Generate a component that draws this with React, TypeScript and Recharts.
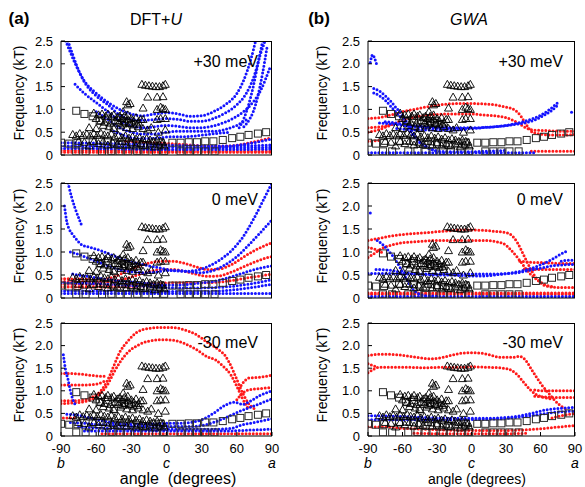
import React from "react";
import { ComposedChart, Line, Scatter, XAxis, YAxis } from "recharts";

type Pt = [number, number];

const ANGLE_TICKS = [-90, -60, -30, 0, 30, 60, 90];
const FREQ_TICKS = [0, 0.5, 1, 1.5, 2, 2.5];
const FIELD_LABELS = ["+30 meV", "0 meV", "-30 meV"];
const DIRECTION_LABELS = ["b", "c", "a"];
// top and right edges of each plot box (corner points, in data units)
const FRAME_EDGE: Pt[] = [[-90, 2.5], [90, 2.5], [90, 0]];

// experimental points (same in every panel)
const SQUARES: Pt[] = [
  [-77, 0.08], [-69, 0.08], [-55, 0.08], [-47, 0.09], [-40, 0.08], [-33, 0.08], [-25, 0.09], [-18, 0.08],
  [-9, 0.08], [-2, 0.09], [12, 0.08], [19, 0.08], [26, 0.08], [33, 0.08], [41, 0.08],
  [-90, 0.27], [-83, 0.25], [-76, 0.26], [-63, 0.3], [-57, 0.32], [-50, 0.3], [-45, 0.25], [-40, 0.22],
  [-35, 0.3], [-30, 0.25], [-25, 0.28], [-20, 0.22], [-12, 0.27], [-5, 0.27], [5, 0.27], [12, 0.27],
  [19, 0.28], [26, 0.28], [33, 0.3], [40, 0.3], [48, 0.33], [56, 0.37], [63, 0.4], [70, 0.44], [78, 0.47], [85, 0.5],
  [-77, 0.97], [-70, 0.9], [-63, 0.85], [-57, 0.75], [-50, 0.8], [-45, 0.6], [-41, 0.76], [-36, 0.74], [-32, 0.7],
];

const TRIANGLES: Pt[] = [
  [-21, 1.55], [-18, 1.53], [-15, 1.52], [-12, 1.51], [-9, 1.5], [-6, 1.5], [-3, 1.52], [-1, 1.55],
  [-16, 1.27], [-8, 1.27], [-3, 1.28], [-34, 1.17], [-31, 1.13], [-33, 1.1],
  [-20, 1.03], [-8, 1.0], [-5, 1.05], [-3, 1.02], [-1, 1.0], [-37, 0.95], [-33, 0.88],
  [-20, 0.78], [-8, 0.78], [-5, 0.8], [-1, 0.8], [-16, 0.55], [-7, 0.5], [-1, 0.55],
  [-62, 0.92], [-58, 0.88], [-55, 0.9], [-52, 0.85], [-50, 0.9], [-47, 0.85], [-45, 0.88], [-42, 0.82],
  [-40, 0.85], [-38, 0.8], [-36, 0.85], [-33, 0.78], [-30, 0.8], [-28, 0.75], [-26, 0.82], [-24, 0.72],
  [-22, 0.78], [-60, 0.8], [-56, 0.75], [-53, 0.72], [-48, 0.7], [-44, 0.75], [-41, 0.7], [-37, 0.68],
  [-35, 0.72], [-31, 0.7], [-28, 0.66], [-25, 0.68],
  [-66, 0.6], [-60, 0.58], [-54, 0.65], [-49, 0.62], [-45, 0.58], [-39, 0.64], [-34, 0.6], [-29, 0.58],
  [-24, 0.62], [-20, 0.58], [-13, 0.6],
  [-80, 0.45], [-77, 0.42], [-74, 0.47], [-71, 0.43], [-68, 0.46], [-65, 0.42], [-62, 0.47], [-59, 0.43],
  [-56, 0.48], [-53, 0.44], [-50, 0.42], [-47, 0.46], [-44, 0.4], [-41, 0.43], [-38, 0.38], [-35, 0.42],
  [-32, 0.37], [-29, 0.4], [-26, 0.35], [-23, 0.38], [-20, 0.33], [-17, 0.36], [-14, 0.33], [-11, 0.3],
  [-8, 0.33], [-5, 0.3], [-3, 0.28],
  [-75, 0.3], [-70, 0.28], [-66, 0.2], [-62, 0.3], [-58, 0.25], [-54, 0.3], [-50, 0.22], [-46, 0.28],
  [-42, 0.24], [-38, 0.3], [-34, 0.22], [-30, 0.27], [-26, 0.2], [-22, 0.25], [-18, 0.2], [-14, 0.24],
  [-10, 0.18], [-6, 0.22], [-2, 0.2],
];

// (a) DFT+U
const DFT_P30_RED: Pt[][] = [
  [[-90, 0.06], [-45, 0.06], [0, 0.06], [45, 0.06], [90, 0.06]],
  [[-90, 0.1], [-45, 0.1], [0, 0.09], [45, 0.08], [90, 0.08]],
  [[-35, 0.3], [-20, 0.28], [-5, 0.26], [10, 0.24], [25, 0.21], [40, 0.19], [55, 0.2], [70, 0.26], [80, 0.32], [90, 0.38]],
];
const DFT_P30_BLUE: Pt[][] = [
  [[-86, 2.5], [-82, 2.25], [-76, 1.9], [-70, 1.62], [-62, 1.4], [-55, 1.25], [-48, 1.12], [-40, 1.0], [-30, 0.9], [-20, 0.86], [-10, 0.9], [0, 0.93], [10, 0.9], [20, 0.85], [30, 0.86], [40, 0.95], [50, 1.1], [60, 1.35], [66, 1.65], [72, 2.1], [76, 2.5]],
  [[-84, 2.5], [-80, 2.2], [-74, 1.8], [-68, 1.52], [-60, 1.3], [-50, 1.1], [-40, 0.88], [-30, 0.78], [-20, 0.76], [-10, 0.78], [0, 0.8], [10, 0.78], [20, 0.74], [30, 0.74], [40, 0.8], [50, 0.92], [60, 1.1], [68, 1.35], [75, 1.75], [80, 2.2], [84, 2.5]],
  [[-78, 1.55], [-70, 1.35], [-60, 1.15], [-50, 0.95], [-40, 0.75], [-30, 0.64], [-20, 0.6], [-10, 0.62], [0, 0.65], [10, 0.63], [20, 0.6], [30, 0.6], [40, 0.64], [50, 0.72], [60, 0.85], [70, 1.05], [80, 1.4], [88, 1.9]],
  [[-60, 0.95], [-50, 0.78], [-40, 0.6], [-30, 0.5], [-20, 0.46], [-10, 0.46], [0, 0.5], [10, 0.52], [20, 0.52], [30, 0.52], [40, 0.52], [50, 0.56], [60, 0.65], [70, 0.8]],
  [[-45, 0.52], [-35, 0.42], [-25, 0.36], [-15, 0.36], [-5, 0.38], [5, 0.4], [15, 0.4], [25, 0.42], [35, 0.45], [45, 0.48], [55, 0.5]],
  [[62, 0.6], [66, 0.8], [70, 1.1], [74, 1.5], [78, 2.0], [82, 2.5]],
  [[66, 0.62], [70, 0.75], [74, 0.95], [78, 1.3], [82, 1.8], [86, 2.4]],
  [[-90, 0.27], [-60, 0.26], [-30, 0.24], [0, 0.22], [30, 0.2], [60, 0.2], [90, 0.22]],
  [[-90, 0.2], [-60, 0.19], [-30, 0.18], [0, 0.17], [30, 0.16], [60, 0.16], [90, 0.17]],
  [[-90, 0.14], [-60, 0.14], [-30, 0.13], [0, 0.12], [30, 0.12], [60, 0.12], [90, 0.13]],
  [[30, 0.15], [50, 0.18], [70, 0.25], [90, 0.35]],
];

const DFT_0_RED: Pt[][] = [
  [[-90, 0.42], [-70, 0.41], [-55, 0.4], [-45, 0.46], [-35, 0.57], [-25, 0.68], [-15, 0.76], [-5, 0.8], [5, 0.8], [15, 0.76], [25, 0.68], [35, 0.62], [45, 0.63], [55, 0.72], [65, 0.88], [75, 1.03], [85, 1.15], [90, 1.2]],
  [[-90, 0.36], [-70, 0.35], [-55, 0.34], [-45, 0.36], [-35, 0.42], [-25, 0.5], [-15, 0.57], [-5, 0.62], [5, 0.62], [15, 0.58], [25, 0.52], [35, 0.47], [45, 0.48], [55, 0.56], [65, 0.67], [75, 0.78], [85, 0.87], [90, 0.9]],
  [[-90, 0.3], [-70, 0.3], [-50, 0.29], [-30, 0.3], [-10, 0.32], [10, 0.33], [30, 0.33], [50, 0.36], [70, 0.44], [90, 0.52]],
  [[-90, 0.24], [-70, 0.24], [-50, 0.24], [-30, 0.25], [-10, 0.26]],
];
const DFT_0_BLUE: Pt[][] = [
  [[-84, 2.5], [-81, 2.2], [-78, 1.95], [-75, 1.75], [-72, 1.55]],
  [[-87, 2.0], [-85, 1.65], [-83, 1.5], [-80, 1.38], [-76, 1.25], [-72, 1.15], [-65, 1.1], [-55, 1.02], [-45, 0.92], [-35, 0.82], [-25, 0.75], [-15, 0.7], [-5, 0.65], [5, 0.6], [15, 0.58], [25, 0.6], [35, 0.68], [45, 0.82], [55, 1.02], [65, 1.32], [75, 1.75], [85, 2.25], [90, 2.5]],
  [[-82, 1.0], [-75, 0.95], [-68, 0.88], [-60, 0.8], [-50, 0.7], [-40, 0.62], [-30, 0.57], [-20, 0.55], [-10, 0.56], [0, 0.6], [10, 0.6], [20, 0.57], [30, 0.55], [40, 0.6], [50, 0.72], [60, 0.9], [70, 1.15], [80, 1.42], [90, 1.7]],
  [[-80, 0.52], [-70, 0.48], [-60, 0.44], [-50, 0.4], [-40, 0.37], [-30, 0.35], [-20, 0.33], [-10, 0.3], [0, 0.28], [10, 0.28], [20, 0.3], [30, 0.33], [40, 0.36], [50, 0.42], [60, 0.5], [70, 0.58], [80, 0.65], [90, 0.7]],
  [[-90, 0.33], [-70, 0.32], [-50, 0.3], [-30, 0.27], [-10, 0.24], [10, 0.22], [30, 0.22], [50, 0.24], [70, 0.3], [90, 0.4]],
  [[-90, 0.1], [-45, 0.1], [0, 0.1], [45, 0.1], [90, 0.1]],
  [[-90, 0.15], [-50, 0.15], [-10, 0.14], [30, 0.14], [50, 0.16], [70, 0.22], [90, 0.3]],
];

const DFT_M30_RED: Pt[][] = [
  [[-90, 0.78], [-80, 0.78], [-70, 0.8], [-62, 0.88], [-56, 1.0], [-50, 1.25], [-45, 1.55], [-40, 1.85], [-33, 2.1], [-25, 2.3], [-15, 2.38], [-5, 2.4], [5, 2.4], [15, 2.35], [25, 2.25], [35, 2.07], [45, 1.9], [50, 1.78], [55, 1.55], [60, 1.25], [65, 0.95], [70, 0.72], [75, 0.6]],
  [[-90, 0.72], [-80, 0.73], [-70, 0.76], [-62, 0.83], [-56, 0.95], [-50, 1.15], [-45, 1.4], [-40, 1.62], [-33, 1.85], [-25, 2.0], [-15, 2.1], [-5, 2.13], [5, 2.12], [15, 2.05], [25, 1.92], [35, 1.75], [42, 1.68], [48, 1.55], [55, 1.35], [60, 1.1], [65, 0.82], [70, 0.6]],
  [[-90, 1.38], [-80, 1.38], [-70, 1.36], [-60, 1.33], [-52, 1.32]],
  [[-90, 1.13], [-80, 1.13], [-70, 1.13], [-60, 1.15], [-52, 1.22]],
  [[-88, 0.4], [-84, 0.4], [-80, 0.4], [-76, 0.4]],
  [[62, 1.05], [66, 1.2], [70, 1.28], [80, 1.3], [90, 1.35]],
  [[60, 0.8], [65, 0.95], [70, 1.02], [80, 1.05], [90, 1.07]],
  [[-55, 0.05], [-30, 0.05], [0, 0.05], [30, 0.05], [60, 0.05], [90, 0.05]],
];
const DFT_M30_BLUE: Pt[][] = [
  [[-88, 1.8], [-86, 1.45], [-84, 1.25], [-82, 1.0], [-80, 0.82], [-78, 0.7]],
  [[-85, 0.48], [-78, 0.47], [-70, 0.43], [-60, 0.37], [-50, 0.31], [-40, 0.28], [-30, 0.26], [-20, 0.26], [-10, 0.27], [0, 0.28], [10, 0.28], [20, 0.3], [30, 0.36], [40, 0.5], [50, 0.68], [58, 0.75], [65, 0.7], [72, 0.78], [80, 0.9], [90, 1.0]],
  [[-82, 0.3], [-70, 0.28], [-60, 0.26], [-40, 0.23], [-20, 0.21], [0, 0.21], [20, 0.21], [30, 0.23], [40, 0.3], [50, 0.4], [60, 0.52], [70, 0.62], [80, 0.72], [90, 0.82]],
  [[-75, 0.2], [-60, 0.18], [-40, 0.16], [-20, 0.15], [0, 0.15], [20, 0.15], [40, 0.15], [55, 0.17], [65, 0.25], [75, 0.3], [90, 0.38]],
  [[-70, 0.11], [-40, 0.11], [-10, 0.11], [20, 0.11], [50, 0.11], [70, 0.13], [90, 0.15]],
];

// (b) GWA
const GWA_P30_RED: Pt[][] = [
  [[-90, 0.8], [-80, 0.82], [-70, 0.88], [-60, 0.95], [-50, 1.0], [-40, 1.05], [-30, 1.09], [-20, 1.12], [-10, 1.13], [0, 1.13], [10, 1.12], [20, 1.1], [30, 1.05], [38, 0.98], [43, 0.85], [48, 0.65], [53, 0.5], [60, 0.46], [70, 0.44], [80, 0.44], [90, 0.45]],
  [[-90, 0.5], [-80, 0.56], [-70, 0.66], [-60, 0.76], [-50, 0.83], [-40, 0.87], [-30, 0.89], [-20, 0.9], [-10, 0.9], [0, 0.9], [10, 0.88], [20, 0.86], [30, 0.82], [36, 0.76], [42, 0.68], [47, 0.6], [53, 0.55], [60, 0.54], [70, 0.53], [80, 0.52], [90, 0.52]],
  [[-90, 0.6], [-82, 0.61], [-74, 0.64], [-66, 0.7]],
  [[-90, 0.3], [-84, 0.31], [-78, 0.33]],
  [[52, 0.08], [65, 0.08], [78, 0.08], [90, 0.08]],
];
const GWA_P30_BLUE: Pt[][] = [
  [[-88, 2.03], [-86, 2.2], [-84, 2.1], [-82, 1.95]],
  [[-85, 1.46], [-80, 1.4], [-75, 1.3], [-70, 1.17], [-65, 1.02], [-60, 0.88], [-55, 0.66], [-50, 0.45], [-45, 0.3], [-40, 0.2], [-35, 0.13], [-30, 0.09], [-20, 0.07], [-10, 0.07], [0, 0.07], [10, 0.08], [20, 0.09], [30, 0.1]],
  [[-85, 1.36], [-80, 1.3], [-75, 1.2], [-70, 1.06], [-65, 0.92], [-60, 0.78], [-55, 0.58], [-50, 0.4], [-45, 0.27], [-40, 0.18], [-35, 0.12], [-30, 0.09]],
  [[-80, 0.7], [-70, 0.68], [-60, 0.65], [-50, 0.62], [-40, 0.6], [-30, 0.59], [-20, 0.58], [-10, 0.58], [0, 0.58], [10, 0.6], [20, 0.62], [30, 0.65], [40, 0.7], [50, 0.77], [60, 0.87], [68, 1.0], [75, 1.15]],
  [[-75, 0.73], [-65, 0.7], [-55, 0.66], [-45, 0.63], [-35, 0.62], [-25, 0.61], [-15, 0.6], [-5, 0.6], [5, 0.6], [15, 0.61], [25, 0.63], [35, 0.66], [45, 0.7], [55, 0.77], [63, 0.87], [70, 0.98], [74, 1.07]],
  [[-65, 0.58], [-55, 0.56], [-45, 0.55], [-35, 0.55], [-25, 0.55], [-15, 0.55], [-5, 0.56]],
  [[-90, 0.05], [-45, 0.05], [0, 0.05], [45, 0.05], [55, 0.05]],
  [[87, 0.94], [90, 0.92]],
];

const GWA_0_RED: Pt[][] = [
  [[-90, 1.25], [-80, 1.3], [-70, 1.35], [-60, 1.38], [-50, 1.4], [-40, 1.42], [-30, 1.44], [-20, 1.46], [-10, 1.48], [0, 1.48], [10, 1.47], [20, 1.45], [30, 1.42], [35, 1.36], [40, 1.2], [45, 0.95], [50, 0.7], [55, 0.48], [60, 0.33], [65, 0.26], [75, 0.23], [90, 0.23]],
  [[-90, 0.88], [-85, 0.96], [-80, 1.05], [-70, 1.15], [-60, 1.2], [-50, 1.22], [-40, 1.24], [-30, 1.25], [-20, 1.25], [-10, 1.25], [0, 1.25], [10, 1.25], [20, 1.23], [28, 1.18], [34, 1.05], [40, 0.88], [46, 0.68], [52, 0.5], [58, 0.38], [63, 0.3], [70, 0.25]],
  [[-90, 1.1], [-85, 1.07], [-80, 1.02], [-76, 0.96]],
  [[42, 0.8], [50, 0.78], [60, 0.77], [70, 0.76], [80, 0.75], [90, 0.75]],
  [[46, 0.63], [55, 0.62], [65, 0.62], [75, 0.62], [90, 0.62]],
  [[-90, 0.08], [-45, 0.08], [0, 0.08], [45, 0.08], [90, 0.08]],
  [[-90, 0.11], [-45, 0.11], [0, 0.11], [45, 0.11], [90, 0.11]],
];
const GWA_0_BLUE: Pt[][] = [
  [[-88, 1.85], [-87, 1.83]],
  [[-82, 1.25], [-78, 1.18], [-73, 1.05], [-68, 0.9], [-63, 0.7], [-58, 0.48], [-54, 0.3], [-50, 0.16], [-45, 0.08], [-40, 0.05], [-30, 0.04]],
  [[-83, 0.62], [-70, 0.6], [-60, 0.56], [-50, 0.53], [-40, 0.51], [-30, 0.5], [-20, 0.5], [-10, 0.49], [0, 0.48], [10, 0.48], [20, 0.5], [30, 0.53], [40, 0.57], [50, 0.63], [60, 0.72], [70, 0.84], [78, 0.96], [84, 1.03]],
  [[-90, 0.53], [-70, 0.53], [-50, 0.52], [-30, 0.52], [-10, 0.52], [10, 0.52], [30, 0.53], [40, 0.55], [50, 0.6], [60, 0.65], [70, 0.7], [80, 0.72], [90, 0.73]],
  [[78, 0.8], [84, 0.82], [90, 0.82]],
  [[-90, 0.03], [-45, 0.03], [0, 0.03], [45, 0.03], [90, 0.03]],
];

const GWA_M30_RED: Pt[][] = [
  [[-90, 1.78], [-85, 1.8], [-75, 1.81], [-65, 1.8], [-55, 1.77], [-45, 1.73], [-35, 1.71], [-25, 1.74], [-15, 1.8], [-5, 1.84], [5, 1.84], [15, 1.8], [25, 1.74], [35, 1.74], [42, 1.76], [47, 1.68], [52, 1.48], [57, 1.28], [62, 1.1], [67, 0.95], [72, 0.8], [77, 0.68], [82, 0.6]],
  [[-90, 1.4], [-85, 1.48], [-80, 1.52], [-70, 1.52], [-55, 1.52], [-40, 1.51], [-25, 1.52], [-10, 1.52], [0, 1.53], [15, 1.52], [28, 1.5], [35, 1.45], [40, 1.35], [45, 1.2], [50, 1.05], [56, 0.92], [62, 0.86], [70, 0.82]],
  [[-90, 1.6], [-86, 1.56], [-82, 1.52]],
  [[55, 1.02], [62, 1.0], [70, 1.0], [80, 1.0], [90, 1.0]],
  [[55, 0.88], [65, 0.86], [75, 0.85], [90, 0.85]],
  [[70, 0.4], [78, 0.45], [85, 0.48], [90, 0.5]],
  [[-90, 0.2], [-75, 0.2], [-60, 0.17], [-40, 0.15], [-20, 0.13], [0, 0.12], [20, 0.12], [40, 0.13], [60, 0.16], [80, 0.21], [90, 0.23]],
  [[-50, 0.06], [-25, 0.05], [0, 0.05], [25, 0.05], [50, 0.06]],
];
const GWA_M30_BLUE: Pt[][] = [
  [[-90, 0.45], [-70, 0.44], [-50, 0.42], [-30, 0.4], [-10, 0.39], [10, 0.39], [30, 0.41], [45, 0.46], [55, 0.52], [65, 0.58], [75, 0.61], [90, 0.63]],
  [[-90, 0.36], [-70, 0.36], [-50, 0.36], [-30, 0.36], [-10, 0.36], [10, 0.37], [30, 0.39], [45, 0.43], [60, 0.48], [75, 0.53], [90, 0.55]],
];

const FONT = '"Liberation Sans", Arial, sans-serif';
const RED = "#ff1a1a";
const BLUE = "#1414ff";

// plot areas: left column x 61..272, right column x 368..575
const COLS = [
  { left: 0, width: 290, ml: 60, mr: 18 },
  { left: 290, width: 295, ml: 77, mr: 10 },
];
// rows: y 41..155, 183..298, 323..436
const ROWS = [
  { top: 30, height: 140, mt: 11, mb: 14 },
  { top: 170, height: 140, mt: 13, mb: 11 },
  { top: 310, height: 177, mt: 13, mb: 50 },
];

const toRows = (pts: Pt[]) => pts.map(([x, y]) => ({ x, y }));
const fmtFreq = (v: number) => (v === 0 ? "0" : v.toFixed(1));

const SquareMark = (p: any) => (
  <rect x={p.cx - 3.5} y={p.cy - 3.5} width={7} height={7} fill="none" stroke="#2a2a2a" strokeWidth={1} />
);
const TriangleMark = (p: any) => (
  <polygon
    points={`${p.cx},${p.cy - 4} ${p.cx - 4},${p.cy + 3} ${p.cx + 4},${p.cy + 3}`}
    fill="none"
    stroke="#000"
    strokeWidth={0.9}
  />
);

function Panel({ col, row, reds, blues }: { col: number; row: number; reds: Pt[][]; blues: Pt[][] }) {
  const c = COLS[col];
  const r = ROWS[row];
  const tickStyle = { fontSize: 13, fill: "#000", fontFamily: FONT };
  const curve = (pts: Pt[], color: string, key: string) => (
    <Line
      key={key}
      data={toRows(pts)}
      dataKey="y"
      type="monotone"
      stroke={color}
      strokeWidth={3}
      strokeDasharray="0 3.6"
      strokeLinecap="round"
      dot={false}
      activeDot={false}
      isAnimationActive={false}
    />
  );
  return (
    <div style={{ position: "absolute", left: c.left, top: r.top, width: c.width, height: r.height }}>
      <ComposedChart
        width={c.width}
        height={r.height}
        margin={{ top: r.mt, right: c.mr, bottom: r.mb, left: c.ml }}
      >
        <XAxis
          dataKey="x"
          type="number"
          domain={[-90, 90]}
          allowDataOverflow
          ticks={ANGLE_TICKS}
          height={1}
          tickSize={-4}
          tickMargin={12}
          stroke="#000"
          tick={row === 2 ? tickStyle : false}
        />
        <YAxis
          dataKey="y"
          type="number"
          domain={[0, 2.5]}
          allowDataOverflow
          ticks={FREQ_TICKS}
          width={1}
          tickSize={-4}
          tickMargin={12}
          stroke="#000"
          tick={tickStyle}
          tickFormatter={fmtFreq}
        />
        {reds.map((p, i) => curve(p, RED, "r" + i))}
        {blues.map((p, i) => curve(p, BLUE, "b" + i))}
        {/* top and right edges of the box; 2px stroke, the outer half is clipped */}
        <Line
          data={toRows(FRAME_EDGE)}
          dataKey="y"
          type="linear"
          stroke="#000"
          strokeWidth={2}
          dot={false}
          activeDot={false}
          isAnimationActive={false}
        />
        <Scatter data={toRows(SQUARES)} dataKey="y" shape={SquareMark} isAnimationActive={false} />
        <Scatter data={toRows(TRIANGLES)} dataKey="y" shape={TriangleMark} isAnimationActive={false} />
      </ComposedChart>
    </div>
  );
}

const abs = (x: number, y: number, extra: React.CSSProperties = {}): React.CSSProperties => ({
  position: "absolute",
  left: x,
  top: y,
  transform: "translate(-50%, -50%)",
  whiteSpace: "pre",
  fontFamily: FONT,
  color: "#000",
  lineHeight: 1,
  ...extra,
});

export default function App() {
  const panels = [
    { col: 0, row: 0, reds: DFT_P30_RED, blues: DFT_P30_BLUE },
    { col: 0, row: 1, reds: DFT_0_RED, blues: DFT_0_BLUE },
    { col: 0, row: 2, reds: DFT_M30_RED, blues: DFT_M30_BLUE },
    { col: 1, row: 0, reds: GWA_P30_RED, blues: GWA_P30_BLUE },
    { col: 1, row: 1, reds: GWA_0_RED, blues: GWA_0_BLUE },
    { col: 1, row: 2, reds: GWA_M30_RED, blues: GWA_M30_BLUE },
  ];
  const plotMidY = ROWS.map((r) => r.top + r.mt + (r.height - r.mt - r.mb - 1) / 2);
  const fieldY = [62, 200, 343];
  const ylabelX = [19, 322];
  const fieldRight = [258, 563];
  const plotLeft = COLS.map((c) => c.left + c.ml + 1);
  const plotRight = COLS.map((c) => c.left + c.width - c.mr);

  return (
    <div style={{ position: "absolute", left: 0, top: 0, width: 585, height: 487, background: "#fff", overflow: "hidden" }}>
      {panels.map((p) => (
        <Panel key={p.col + "-" + p.row} {...p} />
      ))}

      <div style={abs(19, 18, { fontSize: 17, fontWeight: "bold" })}>(a)</div>
      <div style={abs(156, 20, { fontSize: 16 })}>
        DFT+<i>U</i>
      </div>
      <div style={abs(319, 18, { fontSize: 17, fontWeight: "bold" })}>(b)</div>
      <div style={abs(469, 20, { fontSize: 16, fontStyle: "italic" })}>GWA</div>

      {[0, 1].map((ci) =>
        [0, 1, 2].map((ri) => (
          <React.Fragment key={ci + "-" + ri}>
            <div style={abs(ylabelX[ci], plotMidY[ri] - 5, { fontSize: 14, transform: "translate(-50%, -50%) rotate(-90deg)" })}>
              Frequency (kT)
            </div>
            <div
              style={{
                position: "absolute",
                right: 585 - fieldRight[ci],
                top: fieldY[ri] - 8,
                fontSize: 16,
                fontFamily: FONT,
                whiteSpace: "pre",
                lineHeight: 1,
              }}
            >
              {FIELD_LABELS[ri]}
            </div>
          </React.Fragment>
        ))
      )}

      {[0, 1].map((ci) => {
        const xs = [plotLeft[ci], (plotLeft[ci] + plotRight[ci]) / 2, plotRight[ci]];
        return (
          <React.Fragment key={"dir" + ci}>
            {DIRECTION_LABELS.map((d, i) => (
              <div key={d} style={abs(xs[i], 463, { fontSize: 14, fontStyle: "italic" })}>
                {d}
              </div>
            ))}
          </React.Fragment>
        );
      })}
      <div style={abs(178, 479, { fontSize: 16 })}>{"angle  (degrees)"}</div>
      <div style={abs(477, 479, { fontSize: 14 })}>{"angle (degrees)"}</div>
    </div>
  );
}
